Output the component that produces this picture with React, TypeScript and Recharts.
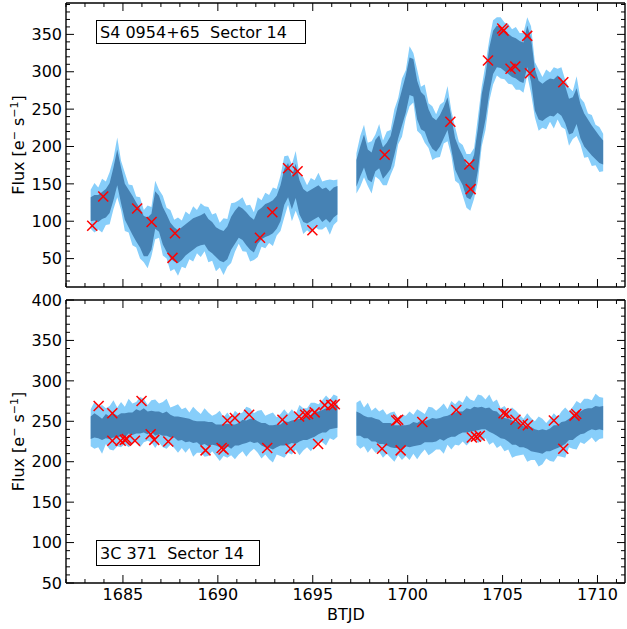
import React from 'react';
import { ComposedChart, Area, Scatter, XAxis, YAxis } from 'recharts';

// ---------- data ----------
const timesSeg1 = [
  1683.3, 1683.5, 1683.7, 1683.9, 1684.1, 1684.3, 1684.5, 1684.7, 1684.9, 1685.1,
  1685.3, 1685.5, 1685.7, 1685.9, 1686.1, 1686.3, 1686.5, 1686.7, 1686.9, 1687.1,
  1687.3, 1687.5, 1687.7, 1687.9, 1688.1, 1688.3, 1688.5, 1688.7, 1688.9, 1689.1,
  1689.3, 1689.5, 1689.7, 1689.9, 1690.1, 1690.3, 1690.5, 1690.7, 1690.9, 1691.1,
  1691.3, 1691.5, 1691.7, 1691.9, 1692.1, 1692.3, 1692.5, 1692.7, 1692.9, 1693.1,
  1693.3, 1693.5, 1693.7, 1693.9, 1694.1, 1694.3, 1694.5, 1694.7, 1694.9, 1695.1,
  1695.3, 1695.5, 1695.7, 1695.9, 1696.1, 1696.3,
];
const gapTime = 1696.8;
const timesSeg2 = [
  1697.3, 1697.5, 1697.7, 1697.9, 1698.1, 1698.3, 1698.5, 1698.7, 1698.9, 1699.1,
  1699.3, 1699.5, 1699.7, 1699.9, 1700.1, 1700.3, 1700.5, 1700.7, 1700.9, 1701.1,
  1701.3, 1701.5, 1701.7, 1701.9, 1702.1, 1702.3, 1702.5, 1702.7, 1702.9, 1703.1,
  1703.3, 1703.5, 1703.7, 1703.9, 1704.1, 1704.3, 1704.5, 1704.7, 1704.9, 1705.1,
  1705.3, 1705.5, 1705.7, 1705.9, 1706.1, 1706.3, 1706.5, 1706.7, 1706.9, 1707.1,
  1707.3, 1707.5, 1707.7, 1707.9, 1708.1, 1708.3, 1708.5, 1708.7, 1708.9, 1709.1,
  1709.3, 1709.5, 1709.7, 1709.9, 1710.1, 1710.3,
];

// S4 0954+65 flux (center), dark-band half width, light-band half width
const s4Center1 = [
  116, 118, 117, 121, 124, 131, 150, 172, 148, 126,
  117, 108, 99, 91, 80, 79, 86, 115, 110, 94,
  84, 74, 69, 66, 70, 75, 79, 83, 86, 88,
  90, 82, 78, 72, 68, 66, 71, 84, 92, 99,
  96, 90, 84, 80, 92, 97, 101, 103, 106, 112,
  124, 146, 155, 138, 154, 132, 121, 118, 121, 124,
  127, 121, 124, 119, 125, 128,
];
const s4Dark1 = [
  16, 17, 18, 18, 19, 20, 22, 24, 24, 24,
  25, 26, 26, 26, 27, 26, 24, 25, 24, 25,
  25, 24, 23, 22, 22, 21, 21, 21, 20, 20,
  21, 21, 21, 20, 21, 21, 22, 22, 22, 21,
  21, 22, 22, 22, 22, 21, 22, 22, 22, 22,
  24, 24, 23, 22, 23, 23, 22, 21, 21, 21,
  21, 22, 21, 21, 20, 19,
];
const s4Light1 = [
  26, 33, 28, 36, 29, 35, 34, 40, 33, 39,
  32, 40, 34, 41, 35, 42, 33, 39, 32, 40,
  34, 41, 33, 39, 31, 38, 30, 37, 29, 36,
  30, 37, 31, 39, 30, 38, 32, 40, 33, 29,
  36, 31, 38, 32, 40, 31, 37, 32, 39, 31,
  37, 41, 33, 38, 40, 31, 38, 30, 37, 31,
  38, 32, 31, 37, 30, 28,
];
const s4Center2 = [
  164, 180, 194, 176, 172, 188, 193, 178, 184, 192,
  212, 234, 252, 270, 294, 292, 262, 248, 244, 228,
  218, 214, 221, 232, 244, 218, 190, 178, 168, 154,
  152, 164, 196, 240, 266, 302, 326, 334, 332, 328,
  324, 320, 318, 314, 312, 334, 316, 276, 262, 259,
  263, 266, 265, 270, 266, 256, 240, 242, 254, 234,
  222, 215, 208, 202, 196, 192,
];
const s4Dark2 = [
  18, 20, 22, 20, 20, 21, 22, 21, 21, 22,
  23, 23, 24, 25, 25, 25, 26, 25, 24, 22,
  21, 21, 21, 21, 22, 22, 21, 20, 20, 22,
  23, 25, 28, 30, 30, 30, 29, 28, 27, 27,
  27, 27, 27, 27, 27, 28, 29, 28, 26, 25,
  25, 25, 25, 25, 25, 25, 24, 24, 24, 23,
  22, 21, 20, 19, 18, 16,
];
const s4Light2 = [
  27, 34, 35, 29, 35, 28, 37, 30, 36, 30,
  38, 31, 39, 32, 40, 33, 41, 32, 39, 30,
  36, 29, 35, 28, 37, 30, 36, 28, 34, 36,
  38, 34, 43, 40, 44, 41, 43, 39, 41, 38,
  40, 37, 42, 38, 40, 39, 45, 37, 41, 34,
  40, 33, 41, 34, 40, 33, 39, 32, 40, 31,
  37, 29, 34, 27, 30, 25,
];

// 3C 371 flux (center), dark-band half width, light-band half width
const c3Center1 = [
  242, 245, 243, 240, 244, 242, 245, 243, 246, 245,
  248, 247, 250, 249, 251, 248, 250, 247, 248, 246,
  247, 244, 243, 241, 241, 239, 239, 237, 237, 235,
  236, 234, 235, 233, 232, 231, 233, 231, 233, 234,
  237, 237, 239, 238, 237, 234, 233, 231, 230, 232,
  233, 235, 235, 237, 237, 239, 240, 242, 243, 246,
  248, 250, 251, 253, 255, 256,
];
const c3Dark1 = [
  14, 15, 14, 13, 15, 14, 15, 14, 14, 15,
  13, 14, 15, 14, 15, 14, 13, 15, 14, 14,
  15, 14, 13, 15, 14, 15, 14, 14, 13, 15,
  14, 15, 14, 13, 14, 15, 14, 15, 13, 14,
  15, 14, 14, 15, 13, 14, 15, 14, 15, 14,
  13, 15, 14, 14, 15, 14, 13, 15, 14, 15,
  14, 14, 15, 13, 14, 14,
];
const c3Light1 = [
  23, 29, 25, 30, 22, 27, 31, 24, 28, 23,
  30, 25, 24, 31, 27, 22, 26, 30, 24, 28,
  31, 23, 26, 30, 24, 28, 22, 31, 26, 24,
  30, 27, 22, 26, 31, 24, 28, 23, 30, 25,
  24, 31, 27, 22, 26, 30, 24, 28, 31, 23,
  26, 30, 24, 28, 22, 31, 26, 24, 30, 27,
  23, 26, 31, 24, 28, 25,
];
const c3Center2 = [
  247, 246, 243, 242, 240, 239, 237, 235, 234, 233,
  231, 231, 230, 232, 232, 234, 234, 236, 237, 238,
  239, 239, 241, 241, 243, 245, 246, 248, 249, 251,
  251, 253, 253, 254, 253, 252, 249, 247, 243, 241,
  239, 236, 235, 233, 231, 230, 228, 226, 225, 225,
  226, 227, 230, 231, 234, 236, 240, 242, 245, 248,
  250, 252, 253, 254, 254, 254,
];
const c3Dark2 = [
  15, 14, 14, 13, 15, 14, 15, 13, 14, 15,
  14, 14, 15, 13, 14, 15, 14, 15, 13, 14,
  15, 14, 13, 15, 14, 14, 15, 14, 13, 15,
  14, 15, 14, 14, 13, 15, 14, 15, 14, 13,
  14, 15, 14, 15, 13, 14, 15, 14, 14, 15,
  13, 14, 15, 14, 15, 14, 13, 15, 14, 14,
  15, 14, 13, 15, 14, 15,
];
const c3Light2 = [
  26, 30, 24, 31, 23, 28, 25, 30, 24, 28,
  31, 23, 28, 25, 30, 24, 31, 26, 22, 30,
  28, 24, 26, 31, 22, 30, 25, 28, 24, 31,
  26, 22, 30, 28, 24, 31, 25, 30, 23, 28,
  24, 31, 28, 25, 22, 30, 26, 24, 31, 28,
  22, 26, 30, 24, 28, 31, 22, 26, 30, 24,
  28, 26, 23, 30, 26, 25,
];

// red x markers
const s4MarkT = [1683.38, 1683.96, 1685.75, 1686.51, 1687.74, 1687.61, 1692.22, 1692.87, 1693.7, 1694.2, 1694.98,
  1698.79, 1702.25, 1703.25, 1703.32, 1704.23, 1704.98, 1705.05, 1705.42, 1705.67, 1706.3, 1706.44, 1708.2];
const s4MarkF = [94, 133, 117, 99, 84, 51, 78, 112, 171, 167, 88,
  189, 233, 176, 143, 315, 358, 355, 304, 307, 348, 298, 286];

const c3MarkT = [1683.72, 1684.44, 1684.44, 1684.88, 1685.1, 1685.2, 1685.63, 1685.98, 1686.46, 1686.65, 1687.39,
  1689.35, 1690.2, 1690.3, 1690.5, 1690.9, 1691.65, 1692.6, 1693.4, 1693.83, 1694.28, 1694.6, 1694.75, 1695.1,
  1695.28, 1695.63, 1695.98, 1696.16, 1698.65, 1699.4, 1699.5, 1699.63, 1700.77, 1702.56, 1703.38, 1703.6,
  1703.8, 1705.05, 1705.2, 1705.68, 1706.07, 1706.33, 1707.7, 1708.2, 1708.79, 1708.88];
const c3MarkF = [269, 260, 226, 226, 227, 228, 226, 275, 234, 227, 225,
  214, 217, 215, 251, 254, 258, 217, 252, 216, 256, 258, 259, 261,
  222, 270, 270, 271, 216, 251, 252, 214, 249, 264, 230, 231,
  232, 260, 259, 252, 247, 245, 251, 216, 257, 259];

// axes
const X_DOMAIN: [number, number] = [1682.0, 1711.45];
const X_MAJOR = [1685, 1690, 1695, 1700, 1705, 1710];
const TOP_Y_DOMAIN: [number, number] = [12, 392];
const TOP_Y_MAJOR = [50, 100, 150, 200, 250, 300, 350];
const BOT_Y_DOMAIN: [number, number] = [50, 400];
const BOT_Y_MAJOR = [50, 100, 150, 200, 250, 300, 350, 400];

const range = (a: number, b: number, s: number) => {
  const out: number[] = [];
  for (let v = a; v <= b + 1e-9; v += s) out.push(Math.round(v * 100) / 100);
  return out;
};
const X_TICKS = range(1682, 1711, 1);
const TOP_Y_TICKS = range(20, 390, 10);
const BOT_Y_TICKS = range(50, 400, 10);

// ---------- helpers ----------
type Row = { t: number; c: number | null; dh: number | null; lh: number | null };
function buildRows(
  c1: number[], d1: number[], l1: number[],
  c2: number[], d2: number[], l2: number[]
): Row[] {
  const rows: Row[] = [];
  timesSeg1.forEach((t, i) => rows.push({ t, c: c1[i], dh: d1[i], lh: l1[i] }));
  rows.push({ t: gapTime, c: null, dh: null, lh: null });
  timesSeg2.forEach((t, i) => rows.push({ t, c: c2[i], dh: d2[i], lh: l2[i] }));
  return rows;
}
const s4Rows = buildRows(s4Center1, s4Dark1, s4Light1, s4Center2, s4Dark2, s4Light2);
const c3Rows = buildRows(c3Center1, c3Dark1, c3Light1, c3Center2, c3Dark2, c3Light2);
const s4Marks = s4MarkT.map((t, i) => ({ t, f: s4MarkF[i] }));
const c3Marks = c3MarkT.map((t, i) => ({ t, f: c3MarkF[i] }));

const lightRange = (d: Row) => (d.c == null ? null : [d.c - (d.lh as number), d.c + (d.lh as number)]);
const darkRange = (d: Row) => (d.c == null ? null : [d.c - (d.dh as number), d.c + (d.dh as number)]);

const FONT = 'DejaVu Sans';
const LIGHT = '#87CEFA';
const DARK = '#4682B4';

const XMark = (props: any) => {
  const { cx, cy } = props;
  if (cx == null || cy == null) return null;
  const r = 5;
  return (
    <g>
      <line x1={cx - r} y1={cy - r} x2={cx + r} y2={cy + r} stroke="#ff0000" strokeWidth={1.5} />
      <line x1={cx - r} y1={cy + r} x2={cx + r} y2={cy - r} stroke="#ff0000" strokeWidth={1.5} />
    </g>
  );
};

const frameLine = { stroke: '#000', strokeWidth: 1.4 };

// inward tick marks (major long, minor short) with optional labels
function makeTick(side: 'left' | 'right' | 'top' | 'bottom', majors: number[], showLabels: boolean) {
  return (props: any) => {
    const { x, y, payload } = props;
    const v = payload.value;
    const isMajor = majors.some((m) => Math.abs(m - v) < 1e-6);
    const len = isMajor ? 8 : 4;
    let line: any;
    if (side === 'left') line = { x1: x, y1: y, x2: x + len, y2: y };
    else if (side === 'right') line = { x1: x, y1: y, x2: x - len, y2: y };
    else if (side === 'bottom') line = { x1: x, y1: y, x2: x, y2: y - len };
    else line = { x1: x, y1: y, x2: x, y2: y + len };
    let label = null;
    if (showLabels && isMajor) {
      if (side === 'left')
        label = <text x={x - 4} y={y + 5.7} textAnchor="end" fontSize={16} fontFamily={FONT} fill="#000">{v}</text>;
      else if (side === 'bottom')
        label = <text x={x} y={y + 17} textAnchor="middle" fontSize={16} fontFamily={FONT} fill="#000">{v}</text>;
    }
    return (
      <g>
        <line {...line} stroke="#000" strokeWidth={1} />
        {label}
      </g>
    );
  };
}

function Panel(props: {
  rows: Row[]; marks: { t: number; f: number }[]; yDomain: [number, number];
  yMajor: number[]; yTicks: number[]; showX: boolean; width: number; height: number;
  topH: number; bottomH: number;
}) {
  const { rows, marks, yDomain, yMajor, yTicks, showX, width, height, topH, bottomH } = props;
  return (
    <ComposedChart width={width} height={height} data={rows} margin={{ top: 0, right: 0, bottom: 0, left: 0 }}>
      <XAxis xAxisId="xb" type="number" dataKey="t" domain={X_DOMAIN} allowDataOverflow ticks={X_TICKS}
        interval={0} height={bottomH} orientation="bottom" tickSize={0} tickMargin={0} axisLine={frameLine}
        tickLine={false} tick={makeTick('bottom', X_MAJOR, showX)} />
      <XAxis xAxisId="xt" type="number" dataKey="t" domain={X_DOMAIN} allowDataOverflow ticks={X_TICKS}
        interval={0} height={topH} orientation="top" tickSize={0} tickMargin={0} axisLine={frameLine}
        tickLine={false} tick={makeTick('top', X_MAJOR, false)} />
      <YAxis yAxisId="yl" type="number" domain={yDomain} allowDataOverflow ticks={yTicks}
        interval={0} width={66} orientation="left" tickSize={0} tickMargin={0} axisLine={frameLine}
        tickLine={false} tick={makeTick('left', yMajor, true)} />
      <YAxis yAxisId="yr" type="number" domain={yDomain} allowDataOverflow ticks={yTicks}
        interval={0} width={2} orientation="right" tickSize={0} tickMargin={0} axisLine={frameLine}
        tickLine={false} tick={makeTick('right', yMajor, false)} />
      <Area xAxisId="xb" yAxisId="yl" type="linear" dataKey={lightRange as any} fill={LIGHT} fillOpacity={1}
        stroke="none" isAnimationActive={false} dot={false} activeDot={false} connectNulls={false} />
      <Area xAxisId="xb" yAxisId="yl" type="linear" dataKey={darkRange as any} fill={DARK} fillOpacity={1}
        stroke="none" isAnimationActive={false} dot={false} activeDot={false} connectNulls={false} />
      <Scatter xAxisId="xb" yAxisId="yl" data={marks} dataKey="f" shape={XMark} isAnimationActive={false} />
    </ComposedChart>
  );
}

function YLabel({ x, y }: { x: number; y: number }) {
  return (
    <text transform={`translate(${x},${y}) rotate(-90)`} textAnchor="middle" fontSize={16} fontFamily={FONT} fill="#000">
      <tspan>Flux [e</tspan>
      <tspan dy={-6} fontSize={11}>−</tspan>
      <tspan dy={6}> s</tspan>
      <tspan dy={-6} fontSize={11}>−1</tspan>
      <tspan dy={6}>]</tspan>
    </text>
  );
}

export default function App() {
  return (
    <div style={{ position: 'absolute', left: 0, top: 0, width: 627, height: 629, background: '#fff', fontFamily: FONT }}>
      <div style={{ position: 'absolute', left: 0, top: 0 }}>
        <Panel rows={s4Rows} marks={s4Marks} yDomain={TOP_Y_DOMAIN} yMajor={TOP_Y_MAJOR} yTicks={TOP_Y_TICKS}
          showX={false} width={627} height={290} topH={3} bottomH={3} />
      </div>
      <div style={{ position: 'absolute', left: 0, top: 290 }}>
        <Panel rows={c3Rows} marks={c3Marks} yDomain={BOT_Y_DOMAIN} yMajor={BOT_Y_MAJOR} yTicks={BOT_Y_TICKS}
          showX={true} width={627} height={339} topH={10} bottomH={46} />
      </div>
      <svg width={627} height={629} style={{ position: 'absolute', left: 0, top: 0, pointerEvents: 'none' }}>
        <YLabel x={23.5} y={145} />
        <YLabel x={23.5} y={441.5} />
        <text x={346} y={620} textAnchor="middle" fontSize={16} fontFamily={FONT} fill="#000">BTJD</text>
        <rect x={96.5} y={20.5} width={209} height={23} fill="#fff" stroke="#000" strokeWidth={1} />
        <text x={100} y={38} fontSize={16} fontFamily={FONT} fill="#000" style={{ whiteSpace: 'pre' }}>S4 0954+65  Sector 14</text>
        <rect x={96.5} y={540.5} width={163} height={25} fill="#fff" stroke="#000" strokeWidth={1} />
        <text x={100} y={559} fontSize={16} fontFamily={FONT} fill="#000" style={{ whiteSpace: 'pre' }}>3C 371  Sector 14</text>
      </svg>
    </div>
  );
}
